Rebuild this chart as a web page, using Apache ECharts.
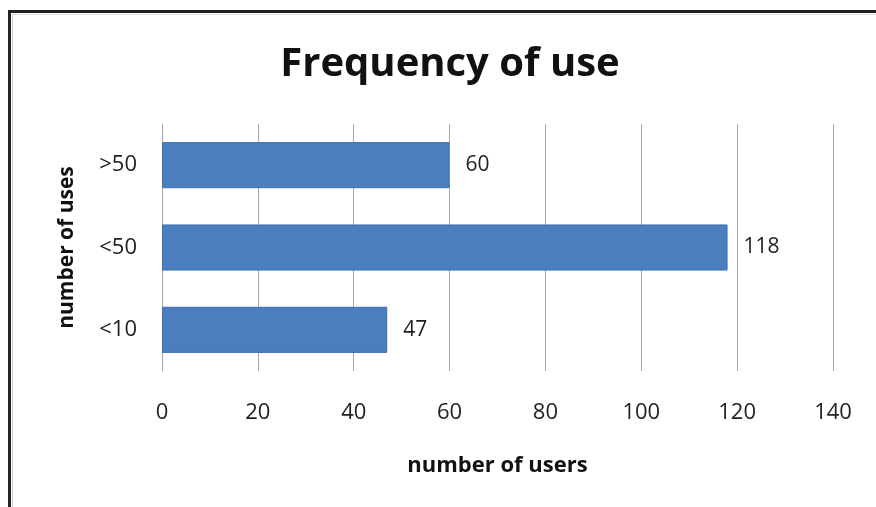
<!DOCTYPE html>
<html>
<head>
<meta charset="utf-8">
<script src="https://cdn.jsdelivr.net/npm/echarts@6/dist/echarts.min.js"></script>
<style>
  html, body { margin: 0; padding: 0; background: #fff; }
  #frame { position: absolute; left: 0; top: 0; width: 876px; height: 507px; overflow: hidden; }
  #frame::before { content: ""; position: absolute; left: 8px; top: 10px; right: -10px; bottom: -10px;
    border-left: 3px solid #222; border-top: 3px solid #222; }
  #frame::after { content: ""; position: absolute; left: 12px; top: 14px; right: -10px; bottom: -10px;
    border-left: 1px solid #c8c8c8; border-top: 1px solid #e4e4e4; }
  #chart { position: absolute; left: 0; top: 0; width: 876px; height: 507px; }
</style>
</head>
<body>
<div id="frame"></div>
<div id="chart"></div>
<script>
// Usage groups, listed from the bottom of the chart upward
const categories = ['<10', '<50', '>50'];
// Number of users in each group
const users = [47, 118, 60];
// Value axis ticks
const xTicks = [0, 20, 40, 60, 80, 100, 120, 140];

const chart = echarts.init(document.getElementById('chart'), null, { renderer: 'canvas' });
const font = 'Open Sans, Noto Sans, sans-serif';

chart.setOption({
  backgroundColor: 'transparent',
  animation: false,
  title: {
    text: 'Frequency of use',
    left: 445, top: 40, textAlign: 'center',
    textStyle: { fontFamily: font, fontSize: 40, fontWeight: 'bold', color: '#111' }
  },
  grid: { left: 162, right: 43, top: 124, bottom: 136, containLabel: false },
  xAxis: {
    type: 'value',
    min: xTicks[0], max: xTicks[xTicks.length - 1], interval: 20,
    name: 'number of users', nameLocation: 'middle', nameGap: 84,
    nameTextStyle: { fontFamily: font, fontSize: 22, fontWeight: 'bold', color: '#111' },
    axisLine: { show: false }, axisTick: { show: false },
    axisLabel: { margin: 31, fontFamily: font, fontSize: 22, color: '#222' },
    splitLine: { show: true, lineStyle: { color: '#a8a8a8', width: 1 } }
  },
  yAxis: {
    type: 'category', data: categories,
    name: 'number of uses', nameLocation: 'middle', nameGap: 84, nameRotate: 90,
    nameTextStyle: { fontFamily: font, fontSize: 21, fontWeight: 'bold', color: '#111' },
    axisLine: { show: true, lineStyle: { color: '#a8a8a8', width: 1 } },
    axisTick: { show: false },
    axisLabel: { margin: 25, fontFamily: font, fontSize: 22, color: '#222' }
  },
  series: [{
    type: 'bar', data: users, barWidth: '56%',
    itemStyle: { color: '#4a7ebf', borderColor: '#3f70ad', borderWidth: 1 },
    label: { show: true, position: 'right', distance: 16, fontFamily: font, fontSize: 21, color: '#222' }
  }]
});
</script>
</body>
</html>
